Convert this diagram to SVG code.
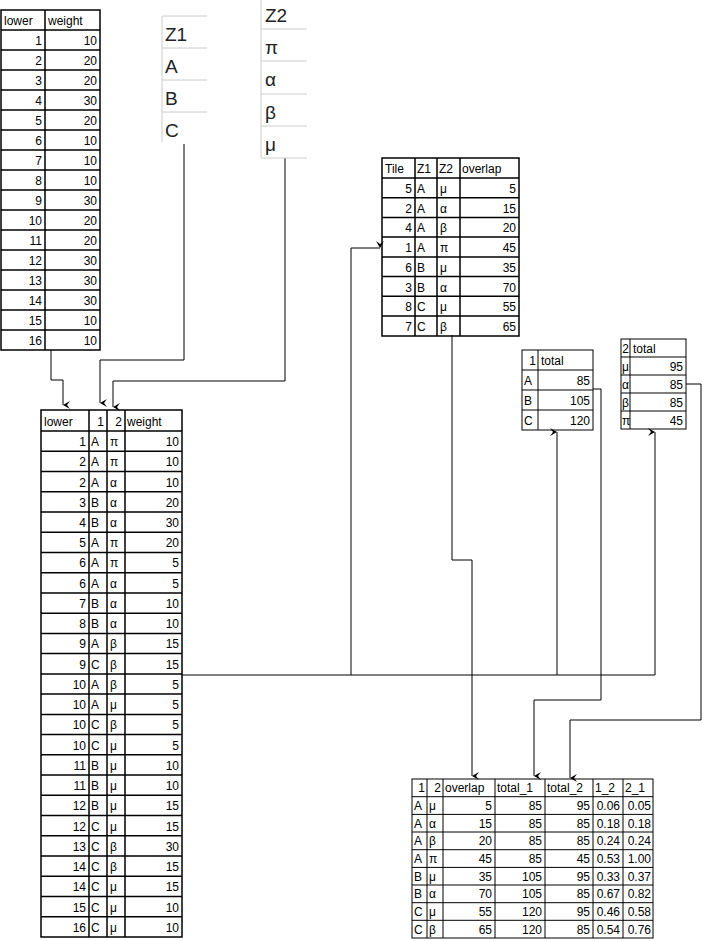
<svg xmlns="http://www.w3.org/2000/svg" width="710" height="941" viewBox="0 0 710 941">
<style>
text{font-family:"Liberation Sans",Arial,sans-serif;font-size:12px;fill:#000}
.r{text-anchor:end}
.big{font-size:19px;fill:#222}
.g{fill:none;stroke:#000;stroke-width:1.5}
.t{fill:none;stroke:#000;stroke-width:1}
.lg{fill:none;stroke:#ccc;stroke-width:1}
.c{fill:none;stroke:#000;stroke-width:1}
</style>
<defs><marker id="a" markerWidth="10" markerHeight="10" refX="5" refY="8" orient="auto-start-reverse" markerUnits="userSpaceOnUse"><path d="M1,1 L5,8 L9,1 L5,4 Z" fill="#000"/></marker></defs>
<g id="connectors">
<path class="c" d="M51,350 V380 H63 V405" marker-end="url(#a)"/>
<path class="c" d="M184,144 V360 H100 V403" marker-end="url(#a)"/>
<path class="c" d="M285,158 V381 H113 V407" marker-end="url(#a)"/>
<path class="c" d="M182,675 H655"/>
<path class="c" d="M351,675 V248 H380" marker-end="url(#a)"/>
<path class="c" d="M557,675 V432" marker-end="url(#a)"/>
<path class="c" d="M655,675 V432" marker-end="url(#a)"/>
<path class="c" d="M452,335 V560 H472 V776" marker-end="url(#a)"/>
<path class="c" d="M593,389 H601 V700 H534 V776" marker-end="url(#a)"/>
<path class="c" d="M686,384 H701 V720 H570 V778" marker-end="url(#a)"/>
</g>
<g id="lowerWeight">
<rect class="g" x="1" y="10" width="99" height="340"/>
<path class="g" d="M45,10 V350 M1,30 H100 M1,50 H100 M1,70 H100 M1,90 H100 M1,110 H100 M1,130 H100 M1,150 H100 M1,170 H100 M1,190 H100 M1,210 H100 M1,230 H100 M1,250 H100 M1,270 H100 M1,290 H100 M1,310 H100 M1,330 H100"/>
<text x="4" y="25">lower</text><text x="48" y="25">weight</text>
<text class="r" x="42" y="45">1</text><text class="r" x="97" y="45">10</text>
<text class="r" x="42" y="65">2</text><text class="r" x="97" y="65">20</text>
<text class="r" x="42" y="85">3</text><text class="r" x="97" y="85">20</text>
<text class="r" x="42" y="105">4</text><text class="r" x="97" y="105">30</text>
<text class="r" x="42" y="125">5</text><text class="r" x="97" y="125">20</text>
<text class="r" x="42" y="145">6</text><text class="r" x="97" y="145">10</text>
<text class="r" x="42" y="165">7</text><text class="r" x="97" y="165">10</text>
<text class="r" x="42" y="185">8</text><text class="r" x="97" y="185">10</text>
<text class="r" x="42" y="205">9</text><text class="r" x="97" y="205">30</text>
<text class="r" x="42" y="225">10</text><text class="r" x="97" y="225">20</text>
<text class="r" x="42" y="245">11</text><text class="r" x="97" y="245">20</text>
<text class="r" x="42" y="265">12</text><text class="r" x="97" y="265">30</text>
<text class="r" x="42" y="285">13</text><text class="r" x="97" y="285">30</text>
<text class="r" x="42" y="305">14</text><text class="r" x="97" y="305">30</text>
<text class="r" x="42" y="325">15</text><text class="r" x="97" y="325">10</text>
<text class="r" x="42" y="345">16</text><text class="r" x="97" y="345">10</text>
</g>
<g id="Z1">
<path class="lg" d="M162,16 V142 M162,16 H207 M162,48 H207 M162,80 H207 M162,112 H207"/>
<text class="big" x="165" y="41">Z1</text><text class="big" x="165" y="73">A</text><text class="big" x="165" y="105">B</text><text class="big" x="165" y="137">C</text>
</g>
<g id="Z2">
<path class="lg" d="M261,0 V158 M261,29 H307 M261,61 H307 M261,94 H307 M261,126 H307 M261,158 H307"/>
<text class="big" x="265" y="22">Z2</text><text class="big" x="265" y="54">π</text><text class="big" x="265" y="86">α</text><text class="big" x="265" y="119">β</text><text class="big" x="265" y="151">μ</text>
</g>
<g id="joined">
<rect class="g" x="41" y="410" width="141" height="527"/>
<path class="g" d="M89,410 V937 M107,410 V937 M125,410 V937 M41,431 H182 M41,451.2 H182 M41,471.5 H182 M41,491.7 H182 M41,512 H182 M41,532.2 H182 M41,552.4 H182 M41,572.7 H182 M41,592.9 H182 M41,613.2 H182 M41,633.4 H182 M41,653.6 H182 M41,673.9 H182 M41,694.1 H182 M41,714.4 H182 M41,734.6 H182 M41,754.8 H182 M41,775.1 H182 M41,795.3 H182 M41,815.6 H182 M41,835.8 H182 M41,856 H182 M41,876.3 H182 M41,896.5 H182 M41,916.8 H182"/>
<text x="44" y="426">lower</text><text class="r" x="104" y="426">1</text><text class="r" x="122" y="426">2</text><text x="127" y="426">weight</text>
<g id="rows">
<text class="r" x="86" y="446">1</text><text x="91" y="446">A</text><text x="110" y="446">π</text><text class="r" x="179" y="446">10</text>
<text class="r" x="86" y="466">2</text><text x="91" y="466">A</text><text x="110" y="466">π</text><text class="r" x="179" y="466">10</text>
<text class="r" x="86" y="486.5">2</text><text x="91" y="486.5">A</text><text x="110" y="486.5">α</text><text class="r" x="179" y="486.5">10</text>
<text class="r" x="86" y="506.7">3</text><text x="91" y="506.7">B</text><text x="110" y="506.7">α</text><text class="r" x="179" y="506.7">20</text>
<text class="r" x="86" y="527">4</text><text x="91" y="527">B</text><text x="110" y="527">α</text><text class="r" x="179" y="527">30</text>
<text class="r" x="86" y="547">5</text><text x="91" y="547">A</text><text x="110" y="547">π</text><text class="r" x="179" y="547">20</text>
<text class="r" x="86" y="567.4">6</text><text x="91" y="567.4">A</text><text x="110" y="567.4">π</text><text class="r" x="179" y="567.4">5</text>
<text class="r" x="86" y="587.7">6</text><text x="91" y="587.7">A</text><text x="110" y="587.7">α</text><text class="r" x="179" y="587.7">5</text>
<text class="r" x="86" y="608">7</text><text x="91" y="608">B</text><text x="110" y="608">α</text><text class="r" x="179" y="608">10</text>
<text class="r" x="86" y="628">8</text><text x="91" y="628">B</text><text x="110" y="628">α</text><text class="r" x="179" y="628">10</text>
<text class="r" x="86" y="648.4">9</text><text x="91" y="648.4">A</text><text x="110" y="648.4">β</text><text class="r" x="179" y="648.4">15</text>
<text class="r" x="86" y="668.6">9</text><text x="91" y="668.6">C</text><text x="110" y="668.6">β</text><text class="r" x="179" y="668.6">15</text>
<text class="r" x="86" y="688.9">10</text><text x="91" y="688.9">A</text><text x="110" y="688.9">β</text><text class="r" x="179" y="688.9">5</text>
<text class="r" x="86" y="709">10</text><text x="91" y="709">A</text><text x="110" y="709">μ</text><text class="r" x="179" y="709">5</text>
<text class="r" x="86" y="729.4">10</text><text x="91" y="729.4">C</text><text x="110" y="729.4">β</text><text class="r" x="179" y="729.4">5</text>
<text class="r" x="86" y="749.6">10</text><text x="91" y="749.6">C</text><text x="110" y="749.6">μ</text><text class="r" x="179" y="749.6">5</text>
<text class="r" x="86" y="769.8">11</text><text x="91" y="769.8">B</text><text x="110" y="769.8">μ</text><text class="r" x="179" y="769.8">10</text>
<text class="r" x="86" y="790">11</text><text x="91" y="790">B</text><text x="110" y="790">μ</text><text class="r" x="179" y="790">10</text>
<text class="r" x="86" y="810.3">12</text><text x="91" y="810.3">B</text><text x="110" y="810.3">μ</text><text class="r" x="179" y="810.3">15</text>
<text class="r" x="86" y="830.6">12</text><text x="91" y="830.6">C</text><text x="110" y="830.6">μ</text><text class="r" x="179" y="830.6">15</text>
<text class="r" x="86" y="850.8">13</text><text x="91" y="850.8">C</text><text x="110" y="850.8">β</text><text class="r" x="179" y="850.8">30</text>
<text class="r" x="86" y="871">14</text><text x="91" y="871">C</text><text x="110" y="871">β</text><text class="r" x="179" y="871">15</text>
<text class="r" x="86" y="891.3">14</text><text x="91" y="891.3">C</text><text x="110" y="891.3">μ</text><text class="r" x="179" y="891.3">15</text>
<text class="r" x="86" y="911.5">15</text><text x="91" y="911.5">C</text><text x="110" y="911.5">μ</text><text class="r" x="179" y="911.5">10</text>
<text class="r" x="86" y="931.8">16</text><text x="91" y="931.8">C</text><text x="110" y="931.8">μ</text><text class="r" x="179" y="931.8">10</text>
</g>
</g>
<g id="tile">
<rect class="g" x="382" y="158" width="137" height="178"/>
<path class="g" d="M415,158 V336 M437,158 V336 M460,158 V336 M382,178 H519 M382,197.7 H519 M382,217.4 H519 M382,237.1 H519 M382,256.9 H519 M382,276.6 H519 M382,296.3 H519 M382,316 H519"/>
<text x="385" y="173">Tile</text><text x="417" y="173">Z1</text><text x="439" y="173">Z2</text><text x="462" y="173">overlap</text>
<text class="r" x="412" y="193">5</text><text x="417" y="193">A</text><text x="440" y="193">μ</text><text class="r" x="516" y="193">5</text>
<text class="r" x="412" y="212.7">2</text><text x="417" y="212.7">A</text><text x="440" y="212.7">α</text><text class="r" x="516" y="212.7">15</text>
<text class="r" x="412" y="232.4">4</text><text x="417" y="232.4">A</text><text x="440" y="232.4">β</text><text class="r" x="516" y="232.4">20</text>
<text class="r" x="412" y="252.1">1</text><text x="417" y="252.1">A</text><text x="440" y="252.1">π</text><text class="r" x="516" y="252.1">45</text>
<text class="r" x="412" y="271.9">6</text><text x="417" y="271.9">B</text><text x="440" y="271.9">μ</text><text class="r" x="516" y="271.9">35</text>
<text class="r" x="412" y="291.6">3</text><text x="417" y="291.6">B</text><text x="440" y="291.6">α</text><text class="r" x="516" y="291.6">70</text>
<text class="r" x="412" y="311.3">8</text><text x="417" y="311.3">C</text><text x="440" y="311.3">μ</text><text class="r" x="516" y="311.3">55</text>
<text class="r" x="412" y="331">7</text><text x="417" y="331">C</text><text x="440" y="331">β</text><text class="r" x="516" y="331">65</text>
</g>
<g id="total1">
<rect class="t" x="522" y="350" width="71" height="80"/>
<path class="t" d="M538,350 V430 M522,370 H593 M522,390 H593 M522,410 H593"/>
<text class="r" x="536" y="365">1</text><text x="541" y="365">total</text>
<text x="524" y="385">A</text><text class="r" x="590" y="385">85</text>
<text x="524" y="405">B</text><text class="r" x="590" y="405">105</text>
<text x="524" y="425">C</text><text class="r" x="590" y="425">120</text>
</g>
<g id="total2">
<rect class="t" x="621" y="339" width="65" height="90"/>
<path class="t" d="M630,339 V429 M621,357 H686 M621,375 H686 M621,393 H686 M621,411 H686"/>
<text class="r" x="629" y="353">2</text><text x="633" y="353">total</text>
<text x="622" y="371">μ</text><text class="r" x="683" y="371">95</text>
<text x="622" y="389">α</text><text class="r" x="683" y="389">85</text>
<text x="622" y="407">β</text><text class="r" x="683" y="407">85</text>
<text x="622" y="425">π</text><text class="r" x="683" y="425">45</text>
</g>
<g id="result">
<rect class="t" x="412" y="779" width="241" height="159"/>
<path class="t" d="M427,779 V938 M443,779 V938 M495,779 V938 M545,779 V938 M593,779 V938 M623,779 V938 M412,796.7 H653 M412,814.4 H653 M412,832 H653 M412,849.7 H653 M412,867.4 H653 M412,885 H653 M412,902.7 H653 M412,920.3 H653"/>
<text class="r" x="425" y="792">1</text><text class="r" x="441" y="792">2</text><text x="445" y="792">overlap</text><text x="497" y="792">total_1</text><text x="547" y="792">total_2</text><text x="595" y="792">1_2</text><text x="625" y="792">2_1</text>
<g>
<text x="414" y="810">A</text><text x="429" y="810">μ</text><text class="r" x="492" y="810">5</text><text class="r" x="542" y="810">85</text><text class="r" x="590" y="810">95</text><text class="r" x="620" y="810">0.06</text><text class="r" x="651" y="810">0.05</text>
<text x="414" y="827.7">A</text><text x="429" y="827.7">α</text><text class="r" x="492" y="827.7">15</text><text class="r" x="542" y="827.7">85</text><text class="r" x="590" y="827.7">85</text><text class="r" x="620" y="827.7">0.18</text><text class="r" x="651" y="827.7">0.18</text>
<text x="414" y="845.4">A</text><text x="429" y="845.4">β</text><text class="r" x="492" y="845.4">20</text><text class="r" x="542" y="845.4">85</text><text class="r" x="590" y="845.4">85</text><text class="r" x="620" y="845.4">0.24</text><text class="r" x="651" y="845.4">0.24</text>
<text x="414" y="863">A</text><text x="429" y="863">π</text><text class="r" x="492" y="863">45</text><text class="r" x="542" y="863">85</text><text class="r" x="590" y="863">45</text><text class="r" x="620" y="863">0.53</text><text class="r" x="651" y="863">1.00</text>
<text x="414" y="880.7">B</text><text x="429" y="880.7">μ</text><text class="r" x="492" y="880.7">35</text><text class="r" x="542" y="880.7">105</text><text class="r" x="590" y="880.7">95</text><text class="r" x="620" y="880.7">0.33</text><text class="r" x="651" y="880.7">0.37</text>
<text x="414" y="898.4">B</text><text x="429" y="898.4">α</text><text class="r" x="492" y="898.4">70</text><text class="r" x="542" y="898.4">105</text><text class="r" x="590" y="898.4">85</text><text class="r" x="620" y="898.4">0.67</text><text class="r" x="651" y="898.4">0.82</text>
<text x="414" y="916">C</text><text x="429" y="916">μ</text><text class="r" x="492" y="916">55</text><text class="r" x="542" y="916">120</text><text class="r" x="590" y="916">95</text><text class="r" x="620" y="916">0.46</text><text class="r" x="651" y="916">0.58</text>
<text x="414" y="933.7">C</text><text x="429" y="933.7">β</text><text class="r" x="492" y="933.7">65</text><text class="r" x="542" y="933.7">120</text><text class="r" x="590" y="933.7">85</text><text class="r" x="620" y="933.7">0.54</text><text class="r" x="651" y="933.7">0.76</text>
</g>
</g>
</svg>
